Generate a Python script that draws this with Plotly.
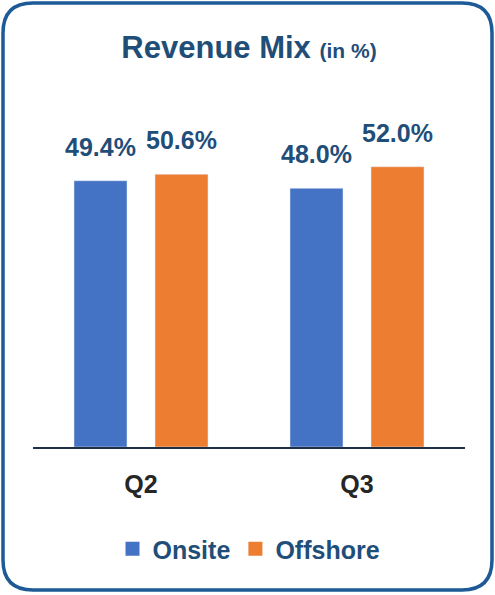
import plotly.graph_objects as go

categories = ["Q2", "Q3"]
onsite = [49.4, 48.0]
offshore = [50.6, 52.0]
onsite_labels = ["49.4%", "48.0%"]
offshore_labels = ["50.6%", "52.0%"]

W, H = 495, 595
L, R, T, B = 33, 30, 130, 148
PW, PH = W - L - R, H - T - B

BLUE = "#4472C4"
ORANGE = "#ED7D31"
NAVY = "#1F4E79"
FONT = "Liberation Sans, Arial, sans-serif"

fig = go.Figure()
fig.add_trace(go.Bar(name="Onsite", x=categories, y=onsite, marker_color=BLUE,
                     text=onsite_labels, textposition="none", showlegend=False))
fig.add_trace(go.Bar(name="Offshore", x=categories, y=offshore, marker_color=ORANGE,
                     text=offshore_labels, textposition="none", showlegend=False))
# legend entries with larger square swatches
for name, col in (("Onsite", BLUE), ("Offshore", ORANGE)):
    fig.add_trace(go.Scatter(name=f"<b>{name}</b>", x=[None], y=[None], mode="markers",
                             marker=dict(symbol="square", size=14, color=col),
                             showlegend=True, hoverinfo="skip"))

# value labels above bars
for cat, v, lab in zip(categories, onsite, onsite_labels):
    fig.add_annotation(x=cat, y=v, text=f"<b>{lab}</b>", showarrow=False,
                       xshift=-40.5, yshift=18, yanchor="bottom",
                       font=dict(family=FONT, size=25, color=NAVY))
for cat, v, lab in zip(categories, offshore, offshore_labels):
    fig.add_annotation(x=cat, y=v, text=f"<b>{lab}</b>", showarrow=False,
                       xshift=40.5, yshift=18, yanchor="bottom",
                       font=dict(family=FONT, size=25, color=NAVY))

def px(xp, yp):
    return f"{(xp - L) / PW:.5f},{(H - B - yp) / PH:.5f}"

x0, y0, x1, y1, r = 3, 3, 492, 590, 30
path = (f"M{px(x0 + r, y0)} L{px(x1 - r, y0)} Q{px(x1, y0)} {px(x1, y0 + r)} "
        f"L{px(x1, y1 - r)} Q{px(x1, y1)} {px(x1 - r, y1)} "
        f"L{px(x0 + r, y1)} Q{px(x0, y1)} {px(x0, y1 - r)} "
        f"L{px(x0, y0 + r)} Q{px(x0, y0)} {px(x0 + r, y0)} Z")
fig.add_shape(type="path", xref="paper", yref="paper", path=path,
              line=dict(color="#1D5A96", width=3.5), layer="below")

fig.update_layout(
    width=W, height=H,
    margin=dict(l=L, r=R, t=T, b=B),
    paper_bgcolor="white", plot_bgcolor="rgba(0,0,0,0)",
    barmode="group", bargap=0.25, bargroupgap=0.346,
    title=dict(text="<b>Revenue Mix</b> <b><span style='font-size:21px'>(in %)</span></b>",
               x=0.5, xref="paper", xanchor="center", y=1 - 47 / H, yref="container",
               yanchor="middle", font=dict(family=FONT, size=31, color=NAVY)),
    showlegend=True,
    legend=dict(orientation="h", x=0.5, xanchor="center", y=(H - B - 549) / PH,
                yanchor="middle", font=dict(family=FONT, size=25, color=NAVY),
                bgcolor="rgba(0,0,0,0)", itemwidth=30, tracegroupgap=0),
    xaxis=dict(showline=True, linecolor="#1F2F45", linewidth=2, showgrid=False,
               ticks="outside", ticklen=14, tickcolor="rgba(0,0,0,0)",
               tickfont=dict(family=FONT, size=25, color="#262626"),
               tickvals=categories, ticktext=[f"<b>{c}</b>" for c in categories]),
    yaxis=dict(visible=False, range=[0, PH / 5.39], showgrid=False, zeroline=False),
)

fig.write_html("out.html", config={"displayModeBar": False},
               post_script="document.body.style.margin='0';")
